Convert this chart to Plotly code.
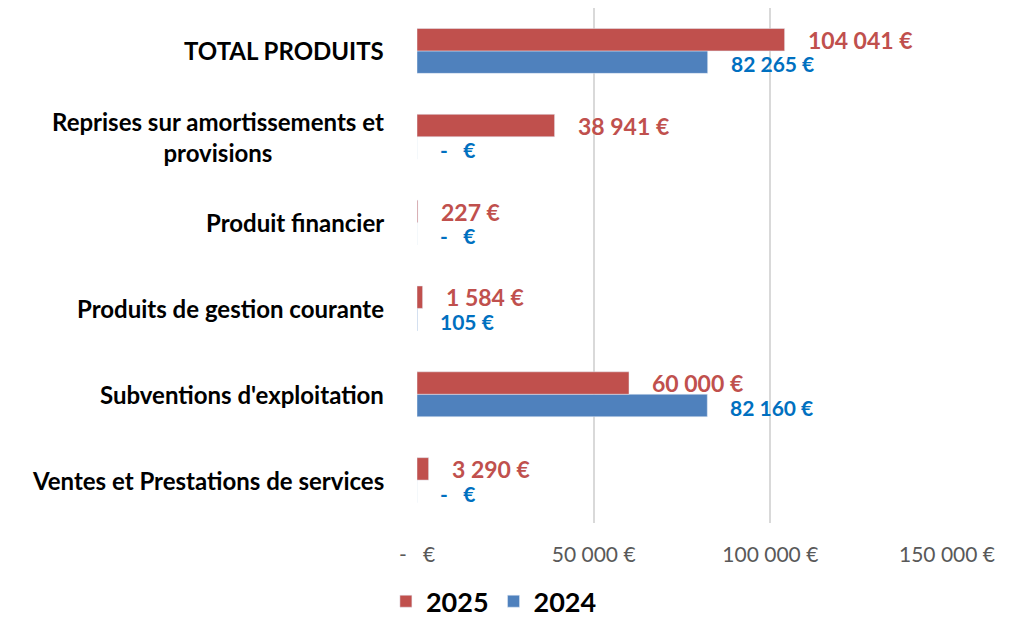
import plotly.graph_objects as go

# categories (bottom to top)
categories = [
    "Ventes et Prestations de services",
    "Subventions d'exploitation",
    "Produits de gestion courante",
    "Produit financier",
    "Reprises sur amortissements et<br>provisions",
    "TOTAL PRODUITS",
]
values_2025 = [3290, 60000, 1584, 227, 38941, 104041]
values_2024 = [0, 82160, 105, 0, 0, 82265]

tick_vals = [0, 50000, 100000, 150000]
tick_text = ["-   €", "50 000 €", "100 000 €", "150 000 €"]

RED = "#C0504D"
BLUE = "#4F81BD"
RED_TXT = "#C0504D"
BLUE_TXT = "#0070C0"
FONT = "Lato"


def fmt(v):
    if v == 0:
        return "-   €"
    return f"{v:,}".replace(",", " ") + " €"


fig = go.Figure()
# 2024 first so it sits below 2025 in each group
fig.add_trace(go.Bar(y=categories, x=values_2024, name="2024", orientation="h",
                     marker=dict(color=BLUE), legendrank=2))
fig.add_trace(go.Bar(y=categories, x=values_2025, name="2025", orientation="h",
                     marker=dict(color=RED), legendrank=1))

# value labels
for cat, v in zip(categories, values_2025):
    fig.add_annotation(x=v, y=cat, text=fmt(v), showarrow=False, xanchor="left",
                       xshift=21, yshift=11,
                       font=dict(family=FONT, size=23, color=RED_TXT, weight="bold"))
for cat, v in zip(categories, values_2024):
    fig.add_annotation(x=v, y=cat, text=fmt(v), showarrow=False, xanchor="left",
                       xshift=21, yshift=-13,
                       font=dict(family=FONT, size=21, color=BLUE_TXT, weight="bold"))

# category labels (centered multi-line, like Excel)
for cat in categories:
    fig.add_annotation(x=0, xref="paper", y=cat, text=cat, showarrow=False,
                       xanchor="right", align="center", xshift=-31,
                       font=dict(family=FONT, size=24, color="black", weight="bold"))

# page body has an 8px margin, so the figure is shifted by 8px
fig.update_layout(
    width=1006, height=612,
    margin=dict(l=409, r=67, t=0, b=97, autoexpand=False),
    paper_bgcolor="white", plot_bgcolor="white",
    barmode="group", bargap=0.477, bargroupgap=0,
    font=dict(family=FONT),
    showlegend=True,
    legend=dict(orientation="h", xref="container", x=0.483, xanchor="center",
                yref="container", y=0.03, yanchor="middle",
                font=dict(family=FONT, size=27, color="black", weight="bold"),
                itemwidth=30, traceorder="normal"),
    xaxis=dict(range=[0, 150000], tickvals=tick_vals, ticktext=tick_text,
               showgrid=True, gridcolor="#D9D9D9", gridwidth=1.5,
               zeroline=False, showline=False, ticks="",
               ticklabelstandoff=17,
               tickfont=dict(family=FONT, size=21, color="#595959")),
    yaxis=dict(categoryorder="array", categoryarray=categories,
               showticklabels=False, showgrid=False, zeroline=False,
               showline=False, ticks=""),
)

fig.write_html("out.html")
